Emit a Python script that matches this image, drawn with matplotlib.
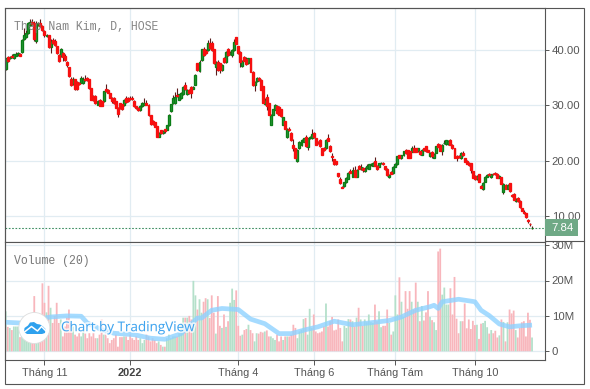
import numpy as np
import matplotlib
matplotlib.use('Agg')
import matplotlib.pyplot as plt
import matplotlib.patheffects as pe
from matplotlib.patches import Rectangle, Circle, Polygon
from matplotlib.lines import Line2D
from matplotlib.transforms import Affine2D

# gia (nghin dong), doc tu anh
opens = [
    36.5, 38.7, 38.5, 39.0, 38.6, 39.0, 39.2, 39.3, 39.7, 42.0,
    42.3, 43.0, 44.5, 45.1, 44.8, 41.7, 44.5, 44.8, 44.3, 43.5,
    42.5, 42.7, 40.6, 41.8, 41.7, 40.7, 39.1, 38.9, 39.5, 39.0,
    37.8, 36.9, 34.7, 33.9, 34.7, 34.2, 34.0, 34.1, 34.0, 34.7,
    35.0, 34.7, 33.1, 31.7, 31.7, 30.1, 31.0, 30.7, 30.7, 33.0,
    32.8, 32.2, 31.4, 31.4, 30.7, 29.6, 30.4, 30.2, 30.0, 31.3,
    31.3, 31.4, 31.4, 30.8, 29.8, 29.6, 29.1, 29.8, 30.1, 30.4,
    30.0, 28.2, 27.2, 26.9, 26.2, 24.3, 25.5, 25.0, 25.7, 25.6,
    26.4, 28.9, 30.4, 30.4, 31.9, 31.0, 31.3, 32.0, 33.7, 32.0,
    32.7, 33.3, 33.0, 33.7, 37.6, 36.2, 38.2, 40.2, 39.9, 40.0,
    41.2, 41.2, 40.1, 36.9, 37.9, 37.6, 36.4, 38.5, 37.9, 40.1,
    39.3, 39.1, 40.0, 42.3, 40.7, 39.7, 37.1, 38.7, 38.3, 37.6,
    38.5, 36.1, 33.6, 34.4, 35.0, 34.6, 33.4, 30.2, 31.5, 30.4,
    26.5, 28.3, 29.2, 29.9, 29.7, 29.3, 26.5, 27.1, 24.2, 25.8,
    25.0, 22.8, 22.2, 19.9, 22.2, 22.8, 23.4, 24.2, 22.4, 24.0,
    24.0, 25.0, 24.0, 23.4, 23.8, 22.2, 22.2, 22.2, 24.0, 22.6,
    20.9, 20.2, 19.9, 17.7, 16.7, 15.3, 15.4, 16.1, 16.7, 18.2,
    17.1, 18.3, 17.1, 19.0, 18.5, 18.6, 18.2, 18.6, 18.5, 19.3,
    19.1, 19.9, 19.0, 18.9, 19.5, 19.5, 19.0, 18.5, 17.0, 18.0,
    17.7, 18.9, 19.3, 21.0, 20.4, 21.0, 22.0, 21.9, 21.7, 21.6,
    22.2, 22.2, 21.7, 21.7, 21.1, 22.2, 22.6, 21.9, 20.8, 21.6,
    20.5, 21.4, 23.0, 22.9, 21.7, 23.1, 23.0, 23.0, 23.8, 22.9,
    22.2, 20.9, 20.9, 20.4, 21.4, 20.4, 20.0, 19.6, 19.5, 18.1,
    17.3, 16.6, 17.5, 15.4, 14.8, 16.2, 17.1, 17.5, 17.0, 17.6,
    17.7, 17.6, 16.9, 17.0, 14.4, 15.6, 14.9, 15.9, 13.7, 14.0,
    12.7, 13.3, 12.7, 11.4, 10.7, 10.5, 9.2, 8.6, 7.8,
]
closes = [
    38.5, 38.1, 38.8, 38.7, 39.2, 39.2, 39.4, 39.0, 41.8, 42.7,
    43.0, 44.8, 45.1, 44.7, 41.9, 44.7, 44.8, 44.3, 43.6, 42.7,
    42.7, 40.6, 41.7, 41.2, 40.9, 39.4, 38.0, 40.1, 38.8, 38.2,
    37.2, 35.3, 33.7, 34.7, 32.9, 32.9, 33.9, 34.9, 34.7, 34.6,
    34.6, 33.1, 31.0, 31.0, 30.4, 30.7, 29.9, 29.9, 32.5, 32.5,
    32.3, 31.4, 30.7, 30.5, 29.6, 28.5, 29.5, 29.4, 31.0, 30.6,
    30.7, 31.2, 31.2, 29.8, 29.5, 29.2, 29.8, 30.5, 30.5, 30.1,
    28.2, 26.6, 26.6, 26.1, 24.3, 25.0, 25.0, 25.4, 25.3, 26.4,
    28.3, 30.2, 31.4, 31.5, 31.6, 32.0, 32.2, 33.3, 32.9, 32.8,
    32.3, 32.3, 33.3, 35.5, 36.3, 37.8, 40.1, 39.1, 39.4, 41.2,
    40.3, 40.0, 37.6, 37.9, 36.4, 36.3, 37.3, 37.9, 39.7, 39.1,
    39.5, 40.0, 41.5, 41.1, 39.4, 37.9, 38.1, 38.1, 37.5, 38.5,
    36.1, 33.6, 34.3, 35.0, 34.6, 32.8, 30.5, 31.0, 29.9, 28.3,
    28.3, 29.3, 30.0, 28.6, 28.3, 28.0, 27.8, 25.8, 25.8, 25.5,
    23.7, 22.2, 20.5, 22.0, 23.4, 23.8, 24.0, 22.6, 24.0, 24.3,
    24.9, 24.2, 22.9, 23.2, 22.6, 21.1, 22.0, 23.8, 23.6, 21.8,
    20.6, 19.3, 19.3, 17.2, 15.9, 15.1, 16.1, 16.9, 17.8, 17.8,
    18.3, 17.1, 18.3, 18.5, 18.9, 18.3, 18.5, 19.0, 19.3, 19.4,
    19.6, 19.1, 18.5, 19.5, 19.6, 19.3, 18.4, 17.4, 17.4, 17.6,
    18.9, 19.3, 20.8, 20.5, 21.0, 21.7, 21.3, 20.5, 20.5, 22.2,
    21.6, 21.6, 22.2, 21.2, 22.0, 21.9, 21.7, 21.6, 21.4, 20.8,
    21.2, 22.6, 22.5, 21.8, 22.9, 23.2, 23.7, 23.6, 22.9, 22.2,
    20.5, 20.5, 20.6, 21.4, 21.0, 19.8, 19.4, 19.2, 18.3, 16.9,
    16.6, 17.3, 16.2, 15.1, 16.0, 17.1, 17.4, 17.4, 17.5, 17.5,
    17.5, 16.9, 17.3, 15.8, 15.8, 14.9, 15.6, 14.5, 13.6, 12.9,
    13.1, 12.7, 11.6, 10.9, 10.6, 9.8, 9.0, 8.5, 7.84,
]
highs = [
    38.6, 38.9, 39.0, 39.2, 39.3, 39.7, 39.6, 39.5, 41.9, 43.9,
    43.7, 45.0, 45.6, 45.6, 45.3, 45.2, 45.0, 45.6, 44.5, 43.7,
    42.9, 42.8, 41.9, 42.1, 42.0, 40.8, 39.2, 40.3, 39.7, 39.2,
    38.0, 37.0, 35.1, 35.1, 34.8, 34.4, 34.2, 35.3, 35.1, 35.5,
    35.1, 34.8, 33.2, 31.8, 31.8, 30.9, 31.1, 30.8, 32.6, 33.9,
    32.9, 32.3, 31.5, 31.5, 30.8, 29.7, 30.5, 30.3, 31.2, 31.6,
    31.5, 31.6, 31.6, 31.0, 29.9, 29.7, 30.0, 30.6, 31.4, 31.0,
    30.2, 28.3, 27.4, 27.0, 26.3, 25.1, 25.6, 25.5, 25.8, 26.5,
    28.4, 30.3, 31.9, 32.4, 33.1, 32.1, 32.4, 33.5, 34.3, 33.0,
    33.0, 33.4, 33.5, 35.6, 37.7, 38.2, 40.2, 40.6, 40.1, 41.8,
    42.1, 41.7, 40.2, 38.1, 38.2, 37.7, 37.4, 38.7, 39.9, 40.3,
    39.9, 40.2, 42.0, 42.4, 40.8, 39.8, 38.2, 39.0, 38.7, 38.6,
    38.6, 36.2, 34.4, 35.1, 35.2, 34.7, 33.5, 31.3, 32.0, 30.5,
    28.4, 29.4, 30.2, 30.0, 29.8, 29.4, 27.9, 27.2, 25.9, 26.0,
    25.1, 23.9, 22.3, 22.1, 23.5, 23.9, 24.1, 24.6, 24.1, 24.5,
    25.8, 25.1, 24.1, 23.6, 23.9, 22.3, 22.4, 23.9, 24.8, 22.8,
    21.4, 20.3, 20.0, 17.8, 17.0, 15.4, 16.2, 17.0, 18.0, 18.4,
    18.9, 19.0, 18.4, 19.2, 19.4, 18.8, 18.9, 19.3, 19.4, 19.6,
    19.8, 20.6, 19.2, 19.6, 19.8, 19.7, 19.1, 18.6, 17.5, 18.1,
    19.0, 19.5, 20.9, 21.1, 21.1, 21.8, 22.1, 22.0, 21.8, 22.6,
    22.8, 22.3, 22.3, 21.8, 22.1, 22.3, 22.7, 22.0, 21.5, 21.7,
    21.3, 22.7, 23.1, 23.0, 23.0, 23.8, 23.8, 23.7, 23.9, 23.0,
    22.3, 21.0, 21.0, 21.5, 21.7, 20.5, 20.1, 19.7, 19.6, 18.2,
    17.4, 17.4, 17.6, 15.5, 16.1, 17.2, 17.5, 17.7, 17.6, 17.8,
    17.9, 17.7, 17.4, 17.1, 15.9, 15.7, 15.7, 16.0, 13.9, 14.2,
    13.2, 13.4, 12.8, 11.5, 11.1, 10.6, 9.4, 8.7, 8.2,
]
lows = [
    36.4, 37.9, 38.3, 38.5, 38.4, 38.9, 39.0, 38.9, 39.5, 41.8,
    42.1, 42.9, 44.3, 44.5, 41.7, 41.3, 44.3, 44.2, 43.4, 42.4,
    42.3, 40.4, 39.5, 41.0, 40.7, 39.2, 37.8, 38.7, 38.1, 38.0,
    37.0, 35.2, 33.4, 33.7, 32.8, 32.8, 33.7, 34.0, 33.9, 34.4,
    34.4, 33.0, 30.9, 30.8, 30.2, 30.0, 29.8, 29.8, 30.6, 32.4,
    32.2, 31.3, 30.5, 30.3, 29.5, 27.8, 29.3, 29.2, 29.9, 30.5,
    30.6, 31.0, 31.0, 29.7, 29.4, 29.0, 29.0, 29.7, 30.0, 30.0,
    28.1, 26.5, 26.5, 26.0, 24.2, 24.2, 24.9, 24.9, 25.0, 25.5,
    26.3, 28.8, 30.3, 30.3, 31.5, 30.9, 31.2, 31.9, 32.7, 31.9,
    32.1, 31.4, 32.9, 33.6, 36.2, 36.0, 38.0, 39.0, 39.2, 39.9,
    40.1, 39.9, 37.4, 35.5, 36.2, 35.9, 36.2, 37.7, 37.7, 39.0,
    39.1, 38.8, 39.9, 41.0, 39.3, 37.0, 37.0, 38.0, 37.3, 37.5,
    36.0, 33.5, 32.5, 34.3, 34.4, 32.7, 30.4, 30.1, 29.2, 28.2,
    26.4, 28.2, 29.1, 28.5, 28.2, 27.9, 26.4, 25.7, 24.1, 25.4,
    23.6, 21.8, 20.4, 19.7, 22.1, 22.7, 23.3, 22.5, 22.0, 23.9,
    23.9, 24.1, 22.8, 23.0, 22.5, 21.0, 21.8, 22.1, 23.5, 21.6,
    20.0, 19.2, 19.2, 17.1, 15.8, 15.1, 15.3, 16.0, 16.6, 17.7,
    17.0, 17.0, 17.0, 18.4, 18.3, 18.0, 17.9, 18.4, 18.4, 19.1,
    19.0, 19.0, 18.3, 18.8, 19.3, 19.2, 18.3, 17.3, 16.9, 17.5,
    17.6, 18.8, 19.2, 20.4, 20.3, 20.9, 21.2, 20.4, 20.4, 21.5,
    21.5, 21.5, 21.6, 21.1, 21.0, 21.8, 21.6, 21.5, 20.7, 20.5,
    20.4, 21.3, 22.4, 21.7, 21.0, 23.0, 22.9, 22.9, 22.8, 22.1,
    20.4, 20.0, 20.5, 20.3, 20.9, 19.7, 19.3, 19.1, 17.7, 16.8,
    16.5, 16.5, 16.1, 15.0, 14.7, 16.1, 17.0, 17.3, 16.9, 17.4,
    17.4, 16.8, 16.8, 15.7, 14.0, 14.8, 14.8, 14.4, 13.5, 12.8,
    12.6, 12.6, 11.5, 10.8, 10.4, 9.7, 8.7, 8.2, 7.7,
]

# khoi luong (trieu cp)
volumes = [
    11.3, 6.9, 6.6, 6.0, 7.0, 7.0, 7.0, 4.0, 6.5, 7.0,
    7.5, 8.0, 9.0, 10.0, 15.6, 9.0, 8.0, 10.0, 19.2, 13.7,
    11.0, 18.5, 12.3, 8.0, 10.0, 13.7, 8.0, 9.0, 4.2, 7.0,
    9.5, 11.8, 8.0, 7.0, 4.7, 4.2, 5.1, 4.2, 6.1, 5.0,
    3.7, 5.1, 4.2, 5.1, 3.7, 3.7, 4.7, 9.0, 4.7, 4.7,
    3.7, 2.3, 3.2, 3.7, 4.7, 1.3, 4.0, 4.0, 4.2, 4.2,
    3.2, 4.7, 3.7, 3.2, 4.2, 3.2, 3.7, 2.3, 3.2, 4.7,
    4.2, 2.8, 3.7, 3.2, 2.3, 2.8, 1.8, 1.3, 1.3, 3.7,
    4.7, 3.7, 4.2, 4.2, 4.2, 5.1, 8.0, 9.5, 9.5, 9.5,
    10.0, 9.0, 19.9, 15.8, 11.8, 14.7, 10.9, 14.0, 15.0, 14.7,
    9.4, 15.8, 10.9, 5.0, 15.6, 7.2, 6.6, 10.4, 6.9, 8.5,
    13.7, 17.7, 14.5, 17.2, 7.2, 4.4, 4.7, 6.0, 6.3, 7.5,
    6.0, 5.1, 2.8, 5.1, 5.0, 5.5, 5.3, 5.6, 5.9, 4.2,
    4.2, 3.7, 3.2, 4.7, 2.8, 4.2, 3.2, 4.2, 4.2, 4.2,
    4.7, 7.5, 6.6, 3.7, 5.6, 6.1, 9.1, 9.4, 4.7, 12.0,
    6.6, 10.4, 5.6, 5.1, 5.3, 5.6, 7.0, 13.5, 7.0, 8.5,
    9.7, 5.9, 6.1, 9.0, 6.6, 2.8, 7.2, 6.6, 9.1, 9.0,
    8.5, 7.0, 9.5, 12.3, 9.0, 7.2, 9.0, 8.2, 10.4, 8.2,
    8.0, 13.2, 8.5, 11.3, 6.8, 7.2, 7.2, 11.8, 8.0, 4.7,
    5.6, 15.8, 10.4, 20.9, 14.0, 9.7, 17.0, 12.0, 17.0, 14.0,
    11.8, 19.4, 14.0, 8.5, 12.8, 8.7, 11.0, 17.0, 9.7, 8.8,
    8.2, 6.0, 28.2, 29.0, 16.0, 18.0, 13.2, 13.2, 17.8, 10.4,
    21.0, 9.2, 5.1, 8.5, 8.5, 13.5, 6.5, 9.0, 6.3, 8.6,
    7.4, 7.5, 3.5, 7.8, 8.0, 8.6, 6.8, 5.0, 6.0, 5.1,
    5.8, 3.9, 4.5, 9.0, 8.3, 2.8, 8.2, 11.8, 10.7, 11.5,
    6.0, 3.9, 6.6, 8.2, 8.5, 4.2, 10.9, 8.9, 3.9,
]

# duong Volume MA(20), doc theo tung moc
ma_idx = [0, 7, 22, 30, 37, 40, 47, 53, 63, 71, 78, 86, 94, 96, 101, 106, 114, 120,
          127, 134, 140, 147, 153, 161, 170, 178, 188, 194, 201, 208, 210, 212, 214,
          222, 230, 233, 237, 242, 247, 252, 258]
ma_vals = [8.2, 8.0, 9.7, 10.0, 9.9, 8.0, 6.1, 5.1, 4.7, 3.7, 3.4, 5.0, 9.4, 9.4, 11.6,
           12.1, 11.8, 9.1, 7.8, 5.0, 5.0, 6.1, 6.9, 8.5, 7.5, 8.0, 8.7, 9.7, 11.6,
           12.6, 13.0, 12.1, 14.0, 14.7, 14.0, 11.6, 10.1, 7.7, 6.9, 7.2, 7.4]

tick_idx = [19, 61, 114, 151, 191, 230]
tick_labels = ['Tháng 11', '2022', 'Tháng 4', 'Tháng 6', 'Tháng Tám', 'Tháng 10']
price_ticks = [10, 20, 30, 40]
vol_ticks = [0, 10, 20, 30]
vol_tick_labels = ['0', '10M', '20M', '30M']
last_price = 7.84

W, H = 590, 389
L, R, TOP, MID, BOT = 4.5, 544.5, 7.5, 241.5, 359.5
GRID = '#e1ecf2'
FRAME = '#555555'
TXT = '#555555'
UP, UP_EDGE = '#2a9a38', '#0a7d16'
DOWN, DOWN_EDGE = '#ff0f0f', '#f50f0f'
WICK = '#5a1c1c'

plt.rcParams['font.family'] = ['Liberation Sans', 'DejaVu Sans']

fig = plt.figure(figsize=(W / 100, H / 100), dpi=100, facecolor='white')
ax = fig.add_axes([L / W, 1 - MID / H, (R - L) / W, (MID - TOP) / H])
vax = fig.add_axes([L / W, 1 - BOT / H, (R - L) / W, (BOT - MID) / H], sharex=ax)

opens_a = np.array(opens)
closes_a = np.array(closes)
xs = np.arange(len(opens))
is_up = closes_a >= opens_a

# nen
ax.vlines(xs, lows, highs, color=WICK, lw=0.8, zorder=3)
body_low = np.minimum(opens_a, closes_a)
body_h = np.abs(closes_a - opens_a)
ax.bar(xs[is_up], body_h[is_up], bottom=body_low[is_up], width=0.95,
       color=UP, edgecolor=UP_EDGE, lw=0.95, zorder=4)
ax.bar(xs[~is_up], body_h[~is_up], bottom=body_low[~is_up], width=0.95,
       color=DOWN, edgecolor=DOWN_EDGE, lw=0.95, zorder=5)
ax.axhline(last_price, color='#3e8f62', lw=0.8, ls=(0, (1.5, 1.5)), zorder=2)

# volume
vxs = np.arange(len(volumes))
vcol = ['#b4e0ca' if u else '#f8b6bc' for u in is_up[:len(volumes)]]
vbars = vax.bar(vxs, volumes, width=0.88, color=vcol, lw=0, zorder=2)
for b in vbars:
    b.set_snap(False)
vax.plot(ma_idx, ma_vals, color='#8fd2ff', lw=3.4, alpha=0.8, zorder=3,
         solid_capstyle='butt')

# truc
x0 = (5.7 - L) / 2.04
ax.set_xlim(-x0, (R - L) / 2.04 - x0)
ax.set_ylim(40 - (MID - 50) / 5.53, 40 + (50 - TOP) / 5.53)
vax.set_ylim(-(BOT - 351.3) / 3.54, (351.3 - MID) / 3.54)

for a in (ax, vax):
    a.set_axisbelow(True)
    a.grid(True, color=GRID, lw=0.9)
    a.yaxis.tick_right()
    for s in a.spines.values():
        s.set_color(FRAME)
        s.set_linewidth(0.8)
    a.tick_params(axis='y', colors=TXT, labelsize=8.2, length=3, width=0.7, pad=2.2)
    a.tick_params(axis='y', color=FRAME)

ax.set_yticks(price_ticks)
ax.set_yticklabels(['%.2f' % v for v in price_ticks])
ax.tick_params(axis='x', length=0, labelbottom=False)
vax.set_yticks(vol_ticks)
vax.set_yticklabels(vol_tick_labels)
vax.set_xticks(tick_idx)
vax.set_xticklabels(tick_labels)
vax.tick_params(axis='x', colors=TXT, color=FRAME, labelsize=7.9, length=3.5, width=0.7, pad=2.7)
vax.get_xticklabels()[1].set_fontweight('bold')
vax.get_xticklabels()[1].set_color('#444444')

# nhan gia cuoi
ytr = ax.get_yaxis_transform()
ax.add_patch(Rectangle((1.0, last_price - 8.5 / 5.53), 33 / (R - L), 17 / 5.53, transform=ytr,
                       facecolor='#6fa986', edgecolor='none', clip_on=False, zorder=10))
ax.text(1 + 6.5 / (R - L), last_price, '%.2f' % last_price, transform=ytr, color='white',
        fontsize=8.2, va='center', ha='left', zorder=11)

# tieu de
ax.text(9.5 / (R - L), 1 - 19.5 / (MID - TOP), 'Thép Nam Kim, D, HOSE', transform=ax.transAxes,
        family='Liberation Mono', fontsize=8.3, color='#777777', alpha=0.9, va='center', zorder=6)
vax.text(9.5 / (R - L), 1 - 19.5 / (BOT - MID), 'Volume (20)', transform=vax.transAxes,
         family='Liberation Mono', fontsize=8.3, color='#777777', va='center', zorder=6)

# khung ngoai
px = Affine2D().scale(1 / W, -1 / H).translate(0, 1) + fig.transFigure
fig.add_artist(Rectangle((L, TOP), 583.5 - L, 384.5 - TOP, transform=px, fill=False,
                         edgecolor=FRAME, lw=0.8))
fig.add_artist(Line2D([R, 583.5], [MID, MID], transform=px, color=FRAME, lw=0.8))

# watermark TradingView
fig.add_artist(Circle((34.3, 328), 15.5, transform=px, facecolor='white',
                      edgecolor='#dddddd', lw=0.6, zorder=8))
fig.add_artist(Polygon([(24, 332), (24.5, 328), (28, 325.5), (30, 322.5), (34, 322), (37, 324),
                        (40, 324.5), (43, 326.5), (45.5, 329), (45, 333), (42, 334), (27, 334)],
                       transform=px, facecolor='#2ea1ee', edgecolor='none', zorder=9))
fig.add_artist(Line2D([24.5, 31.5, 37.5, 41.5, 45.5], [332, 326.5, 331, 326.5, 330.5], transform=px,
                      color='white', lw=1.1, zorder=10))
wm = fig.text(61 / W, 1 - 327.7 / H, 'Chart by TradingView', color='#3fa4ef', fontsize=9.7,
              family='Open Sans', va='center', ha='left', zorder=9)
wm.set_path_effects([pe.withStroke(linewidth=2.5, foreground='white', alpha=0.75)])

fig.savefig('out.png', dpi=100)
